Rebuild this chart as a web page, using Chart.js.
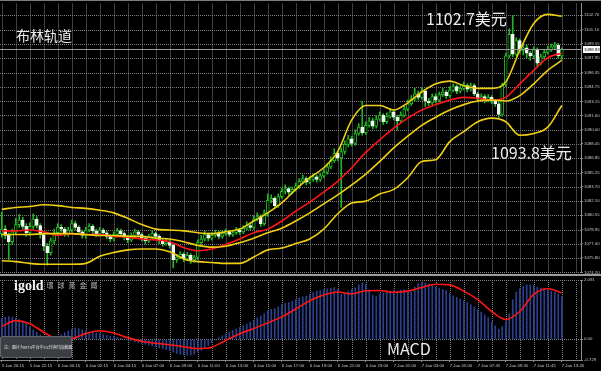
<!DOCTYPE html>
<html>
<head>
<meta charset="utf-8">
<script src="https://cdn.jsdelivr.net/npm/chart.js@4.4.1/dist/chart.umd.min.js"></script>
<style>
  body { margin: 0; background: #000; }
  #wrap { position: relative; width: 601px; height: 371px; background: #000; overflow: hidden; }
  #main { position: absolute; left: 0; top: 0; }
  #macd { position: absolute; left: 0; top: 276px; }
  .t { position: absolute; color: #ececec; font-family: "Noto Sans CJK SC", "Liberation Sans", sans-serif; white-space: nowrap; line-height: 1; }
  #logo { position: absolute; left: 14px; top: 276px; white-space: nowrap; }
  #logo b { font-family: "Liberation Serif", serif; font-size: 14px; color: #f4f4f4; }
  #logo span { font-family: "Noto Sans CJK TC", sans-serif; font-size: 7px; color: #b8b8b8; letter-spacing: 4px; margin-left: 3px; vertical-align: 2px; }
  #note { position: absolute; left: 0; top: 336px; width: 72px; height: 22px; box-sizing: border-box;
          background: #3b3e43; border: 1px solid #62666b; border-radius: 2px;
          font-family: "Noto Sans CJK SC", sans-serif; font-size: 4px; color: #e0e0e0;
          line-height: 20px; padding-left: 3px; white-space: nowrap; }
</style>
</head>
<body>
<div id="wrap">
  <canvas id="main" width="601" height="276"></canvas>
  <canvas id="macd" width="601" height="95"></canvas>
  <div class="t" style="left:16px;top:28px;font-size:14px">布林轨道</div>
  <div class="t" style="left:426px;top:10px;font-size:16px">1102.7美元</div>
  <div class="t" style="left:491px;top:144px;font-size:16px">1093.8美元</div>
  <div class="t" style="left:387px;top:340px;font-size:16px">MACD</div>
  <div id="logo"><b>igold</b><span>環球黃金屬</span></div>
  <div id="note">注：图片为MT4平台中15分钟时段截图</div>
</div>
<script>
// 15 minute bars, 5 Jan 20:15 -> 7 Jan 13:45
const open = [
  1078.5,1079.0,1078.3,1077.6,1078.7,1079.5,1080.0,1079.3,1078.6,1079.3,
  1080.1,1079.4,1078.4,1077.1,1076.4,1077.7,1078.6,1079.2,1079.0,1078.5,
  1078.9,1079.6,1079.2,1078.7,1078.3,1078.9,1079.3,1078.8,1078.5,1078.9,
  1078.6,1078.2,1077.9,1078.4,1078.8,1078.5,1078.1,1077.8,1078.3,1078.7,
  1078.4,1078.0,1077.7,1078.1,1078.5,1078.2,1077.7,1077.4,1077.6,1077.2,
  1075.6,1075.9,1076.2,1075.7,1076.1,1075.6,1075.9,1077.5,1077.9,1078.4,
  1078.0,1078.3,1078.6,1078.2,1078.5,1078.7,1078.4,1078.6,1078.9,1078.7,
  1079.1,1079.4,1079.2,1080.1,1080.4,1079.6,1080.8,1082.2,1082.4,1081.6,
  1082.6,1083.2,1083.5,1083.1,1083.4,1083.8,1084.3,1084.6,1084.2,1084.5,
  1084.8,1084.5,1084.9,1085.3,1085.9,1086.6,1087.4,1086.9,1087.6,1088.4,
  1089.0,1088.5,1089.6,1090.3,1089.7,1090.5,1091.0,1090.4,1091.2,1091.6,
  1090.9,1091.5,1092.0,1091.4,1091.0,1091.6,1092.3,1092.9,1093.4,1094.0,
  1093.6,1094.3,1093.2,1093.0,1093.7,1093.3,1093.9,1094.2,1093.8,1094.4,
  1094.8,1094.3,1094.6,1094.9,1094.5,1094.9,1094.0,1093.4,1093.7,1093.3,
  1093.6,1093.2,1092.9,1091.7,1095.0,1098.2,1100.6,1098.4,1099.9,1098.8,
  1099.1,1098.5,1098.2,1098.9,1097.4,1098.1,1098.6,1098.9,1099.2,1099.4,
  1098.2
];
const high = [
  1080.9,1079.4,1078.6,1079.0,1080.2,1080.6,1080.3,1079.6,1079.7,1080.7,
  1080.4,1079.6,1078.6,1077.4,1078.0,1079.0,1079.6,1079.5,1079.2,1079.2,
  1080.0,1079.9,1079.4,1078.9,1079.2,1079.6,1079.5,1079.0,1079.2,1079.1,
  1078.8,1078.4,1078.7,1079.1,1079.0,1078.7,1078.3,1078.6,1079.0,1078.9,
  1078.6,1078.2,1078.4,1078.8,1078.7,1078.4,1077.9,1077.9,1077.8,1077.4,
  1076.2,1076.5,1076.4,1076.4,1076.3,1076.1,1077.8,1078.3,1078.8,1078.6,
  1078.6,1078.9,1078.8,1078.8,1079.0,1078.9,1078.9,1079.2,1079.1,1079.4,
  1079.8,1079.7,1080.5,1080.8,1080.6,1081.1,1082.9,1082.8,1082.6,1082.9,
  1083.5,1083.9,1083.7,1083.7,1084.1,1084.6,1085.0,1084.8,1084.8,1085.1,
  1085.0,1085.2,1085.6,1086.3,1087.0,1087.9,1087.7,1088.0,1088.8,1089.4,
  1089.3,1090.0,1090.7,1093.2,1090.9,1091.4,1091.3,1091.6,1092.0,1091.8,
  1091.9,1092.4,1092.2,1091.6,1092.0,1092.6,1093.3,1093.8,1094.6,1094.3,
  1094.7,1094.5,1093.5,1094.0,1094.0,1094.2,1094.6,1094.4,1094.8,1095.1,
  1095.0,1094.9,1095.3,1095.1,1095.2,1095.1,1094.2,1094.0,1093.9,1093.9,
  1093.8,1093.4,1093.1,1095.2,1098.5,1101.2,1102.7,1100.2,1100.1,1099.5,
  1099.4,1098.7,1099.2,1099.1,1098.4,1098.9,1099.3,1099.5,1099.7,1099.6,
  1099.1
];
const low = [
  1078.1,1077.9,1075.6,1077.3,1078.4,1079.2,1079.0,1078.2,1078.3,1079.0,
  1079.1,1078.0,1076.6,1075.0,1076.1,1077.4,1078.3,1078.7,1078.2,1078.2,
  1078.7,1078.9,1078.4,1078.0,1078.0,1078.7,1078.5,1078.2,1078.3,1078.3,
  1077.9,1077.6,1077.7,1078.2,1078.2,1077.8,1077.5,1077.6,1078.1,1078.1,
  1077.7,1077.4,1077.5,1077.9,1077.9,1077.4,1077.1,1077.2,1076.9,1074.7,
  1075.3,1075.7,1075.4,1075.5,1075.2,1075.3,1075.6,1077.3,1077.7,1077.7,
  1077.8,1078.1,1077.9,1078.0,1078.3,1078.2,1078.2,1078.4,1078.4,1078.5,
  1078.9,1078.9,1079.0,1079.9,1079.3,1079.4,1080.4,1081.9,1081.3,1081.4,
  1082.4,1082.9,1082.8,1082.9,1083.2,1083.5,1084.1,1083.9,1084.0,1084.3,
  1084.2,1084.3,1084.7,1085.1,1085.7,1086.4,1086.6,1081.4,1087.3,1088.1,
  1088.2,1088.3,1089.4,1089.4,1089.5,1090.3,1090.1,1090.2,1091.0,1090.6,
  1090.7,1091.3,1091.1,1090.0,1090.8,1091.4,1092.1,1092.7,1093.2,1093.3,
  1093.4,1092.6,1092.7,1092.8,1093.0,1093.1,1093.7,1093.5,1093.6,1094.2,
  1094.0,1094.1,1094.4,1094.2,1094.3,1093.8,1093.1,1093.2,1093.0,1093.1,
  1092.9,1092.6,1091.3,1091.5,1094.8,1098.0,1098.1,1098.2,1098.5,1098.3,
  1098.0,1097.7,1097.9,1097.1,1097.2,1097.9,1098.4,1098.7,1099.0,1097.9,
  1097.8
];
const close = [
  1079.0,1078.3,1077.6,1078.7,1079.5,1080.0,1079.3,1078.6,1079.3,1080.1,
  1079.4,1078.4,1077.1,1076.4,1077.7,1078.6,1079.2,1079.0,1078.5,1078.9,
  1079.6,1079.2,1078.7,1078.3,1078.9,1079.3,1078.8,1078.5,1078.9,1078.6,
  1078.2,1077.9,1078.4,1078.8,1078.5,1078.1,1077.8,1078.3,1078.7,1078.4,
  1078.0,1077.7,1078.1,1078.5,1078.2,1077.7,1077.4,1077.6,1077.2,1075.6,
  1075.9,1076.2,1075.7,1076.1,1075.6,1075.9,1077.5,1077.9,1078.4,1078.0,
  1078.3,1078.6,1078.2,1078.5,1078.7,1078.4,1078.6,1078.9,1078.7,1079.1,
  1079.4,1079.2,1080.1,1080.4,1079.6,1080.8,1082.2,1082.4,1081.6,1082.6,
  1083.2,1083.5,1083.1,1083.4,1083.8,1084.3,1084.6,1084.2,1084.5,1084.8,
  1084.5,1084.9,1085.3,1085.9,1086.6,1087.4,1086.9,1087.6,1088.4,1089.0,
  1088.5,1089.6,1090.3,1089.7,1090.5,1091.0,1090.4,1091.2,1091.6,1090.9,
  1091.5,1092.0,1091.4,1091.0,1091.6,1092.3,1092.9,1093.4,1094.0,1093.6,
  1094.3,1093.2,1093.0,1093.7,1093.3,1093.9,1094.2,1093.8,1094.4,1094.8,
  1094.3,1094.6,1094.9,1094.5,1094.9,1094.0,1093.4,1093.7,1093.3,1093.6,
  1093.2,1092.9,1091.7,1095.0,1098.2,1100.6,1098.4,1099.9,1098.8,1099.1,
  1098.5,1098.2,1098.9,1097.4,1098.1,1098.6,1098.9,1099.2,1099.4,1098.2,
  1098.93
];
const lastPrice = 1098.93;

// indicator lines, read every 4th bar
const lineIdx = [0,4,8,12,16,20,24,28,32,36,40,44,48,52,56,60,64,68,72,76,80,
                 84,88,92,96,100,104,108,112,116,120,124,128,132,136,140,144,148,152,156,160];
const bbUpper = [1081.2,1081.4,1081.5,1081.7,1081.6,1081.4,1081.3,1081.1,1080.8,1080.2,1079.5,
                 1079.0,1078.9,1078.8,1078.6,1078.5,1078.7,1079.0,1079.9,1080.8,1081.9,
                 1083.4,1084.7,1085.8,1087.6,1091.1,1092.7,1092.7,1092.2,1093.0,1094.2,
                 1095.1,1095.4,1094.9,1094.6,1094.6,1095.3,1098.8,1101.8,1102.8,1102.6];
const bbMid   = [1078.4,1078.4,1078.4,1078.5,1078.5,1078.5,1078.4,1078.3,1078.3,1078.2,1078.2,
                 1078.0,1077.9,1077.6,1077.2,1077.0,1077.1,1077.5,1078.0,1078.6,1079.1,
                 1079.9,1080.8,1081.8,1082.8,1083.9,1085.1,1086.5,1088.0,1089.3,1090.5,
                 1091.4,1092.2,1092.8,1093.2,1093.3,1093.2,1093.8,1095.1,1096.6,1097.7];
const bbLower = [1075.5,1075.4,1075.2,1075.1,1075.1,1075.1,1075.2,1076.0,1076.4,1076.7,1076.8,
                 1076.8,1076.5,1075.7,1075.4,1075.3,1075.2,1075.2,1075.9,1076.7,1076.9,
                 1077.4,1077.9,1079.0,1080.7,1081.9,1082.1,1082.9,1083.4,1084.7,1086.5,
                 1086.7,1088.7,1089.8,1090.9,1091.3,1090.9,1089.4,1089.6,1090.3,1092.7];
const maLine  = [1078.8,1078.8,1078.9,1078.7,1078.3,1078.5,1078.4,1078.4,1078.2,1078.1,1077.9,
                 1077.8,1077.6,1076.95,1076.6,1076.8,1077.3,1077.9,1078.6,1079.0,1079.9,
                 1081.0,1082.0,1083.1,1084.3,1085.8,1087.5,1088.9,1090.2,1091.3,1092.2,
                 1092.8,1093.3,1093.6,1093.5,1093.3,1093.6,1095.1,1096.6,1098.0,1098.5];

// MACD pane
const macdHist = [
  0.74,0.78,0.80,0.78,0.74,0.70,0.64,0.55,0.45,0.34,
  0.25,0.15,0.06,-0.04,-0.08,-0.02,0.08,0.16,0.24,0.30,
  0.36,0.40,0.38,0.34,0.30,0.26,0.24,0.22,0.20,0.17,
  0.14,0.12,0.10,0.07,0.04,0.01,-0.02,-0.05,-0.08,-0.11,
  -0.14,-0.17,-0.20,-0.23,-0.26,-0.30,-0.33,-0.36,-0.40,-0.45,
  -0.50,-0.53,-0.55,-0.56,-0.55,-0.52,-0.45,-0.38,-0.30,-0.22,
  -0.12,-0.02,0.06,0.13,0.19,0.25,0.31,0.36,0.42,0.48,
  0.54,0.60,0.68,0.76,0.82,0.90,1.00,1.06,1.08,1.14,
  1.22,1.28,1.30,1.34,1.40,1.46,1.50,1.52,1.58,1.65,
  1.70,1.72,1.75,1.78,1.80,1.82,1.76,1.58,1.62,1.70,
  1.76,1.82,1.92,1.99,1.94,1.75,1.55,1.52,1.60,1.64,
  1.67,1.70,1.72,1.70,1.74,1.76,1.70,1.66,1.84,1.96,
  1.99,1.98,1.95,1.90,1.85,1.80,1.76,1.72,1.62,1.54,
  1.48,1.42,1.36,1.30,1.22,1.14,1.05,0.96,0.86,0.76,
  0.62,0.48,0.36,0.45,0.62,0.90,1.40,1.66,1.78,1.86,
  1.92,1.92,1.90,1.84,1.80,1.78,1.74,1.70,1.66,1.60,
  1.50
];
const macdSignal = [0.45,0.66,0.55,0.25,0.02,0.03,0.20,0.30,0.22,0.06,-0.07,
                    -0.14,-0.19,-0.26,-0.33,-0.28,-0.04,0.20,0.38,0.58,0.79,
                    1.07,1.36,1.56,1.67,1.60,1.71,1.72,1.66,1.70,1.83,
                    1.94,1.92,1.70,1.40,0.98,0.70,0.98,1.58,1.78,1.64];

const timeLabels = ['5 Jan 20:15','5 Jan 22:15','6 Jan 00:15','6 Jan 02:15','6 Jan 04:15','6 Jan 07:00',
  '6 Jan 09:00','6 Jan 11:00','6 Jan 13:00','6 Jan 15:00','6 Jan 17:00','6 Jan 19:00','6 Jan 21:00',
  '6 Jan 23:00','7 Jan 01:00','7 Jan 03:00','7 Jan 05:00','7 Jan 07:45','7 Jan 09:45','7 Jan 11:45','7 Jan 13:45'];
const priceTicks = [1102.70,1101.10,1099.55,1097.95,1096.35,1094.75,1093.15,1091.60,1090.00,1088.45,
  1086.85,1085.25,1083.70,1082.10,1080.55,1078.95,1077.40,1075.80,1074.20];
const macdTicks = [2.091, 0, -0.729];
const macdTickText = ['2.091', '0.00', '-0.729'];

// chart shift: a few empty slots after the last bar
const slots = [];
for (let i = 0; i < close.length + 5; i++) slots.push(i);

const green = '#22b422';
const yellow = '#f0cf12';
const red = '#ff1616';
const gridCol = '#7e7e7e';
const axisCol = '#8e8e8e';
const tickCol = '#c8c8c8';
const clear = 'rgba(0,0,0,0)';
const tickFont = { family: '"Liberation Sans", Arial, sans-serif', size: 4.3 };

const pts = (arr) => arr.map((v, k) => ({ x: lineIdx[k], y: v }));
const wicks = low.map((l, i) => [l, high[i]]);
const bodies = open.map((o, i) => [o, close[i]]);
const bodyFill = close.map((c, i) => (c < open[i] ? '#f4f4f4' : '#000000'));
const bodyEdge = close.map((c, i) => (c < open[i] ? '#f4f4f4' : green));

const lineSet = (arr, color, order) => ({
  type: 'line', xAxisID: 'xl', data: pts(arr), borderColor: color, borderWidth: 1.6,
  pointRadius: 0, cubicInterpolationMode: 'monotone', fill: false, order: order
});

// dotted MT4 style grid, placed with the chart's own scales
const dotGrid = (hTicks) => ({
  id: 'dotGrid',
  beforeDatasetsDraw(chart) {
    const { ctx, chartArea: a, scales } = chart;
    ctx.save();
    ctx.strokeStyle = gridCol;
    ctx.lineWidth = 1;
    ctx.setLineDash([1, 1]);
    ctx.beginPath();
    hTicks.forEach((v) => {
      const y = Math.round(scales.y.getPixelForValue(v)) + 0.5;
      ctx.moveTo(a.left, y); ctx.lineTo(a.right, y);
    });
    slots.forEach((i) => {
      if (i % 4 !== 0) return;
      const x = Math.round(scales.x.getPixelForValue(i)) + 0.5;
      ctx.moveTo(x, a.top); ctx.lineTo(x, a.bottom);
    });
    ctx.stroke();
    ctx.restore();
  }
});

const mainFrame = {
  id: 'mainFrame',
  afterDraw(chart) {
    const { ctx, chartArea: a, scales } = chart;
    ctx.save();
    const y = Math.round(scales.y.getPixelForValue(lastPrice)) + 0.5;
    ctx.strokeStyle = '#9a9a9a';
    ctx.lineWidth = 1;
    ctx.beginPath(); ctx.moveTo(a.left, y); ctx.lineTo(a.right, y); ctx.stroke();
    ctx.fillStyle = '#ffffff';
    ctx.fillRect(a.right + 2, y - 3.5, 17, 7);
    ctx.fillStyle = '#000000';
    ctx.font = '4.3px "Liberation Sans"';
    ctx.textBaseline = 'middle';
    ctx.fillText(lastPrice.toFixed(2), a.right + 3, y);
    // top border and pane separator
    ctx.strokeStyle = '#7c7c7c';
    ctx.beginPath(); ctx.moveTo(0, 0.5); ctx.lineTo(chart.width, 0.5); ctx.stroke();
    ctx.lineWidth = 2;
    ctx.strokeStyle = '#9c9c9c';
    ctx.beginPath(); ctx.moveTo(0, 275); ctx.lineTo(chart.width, 275); ctx.stroke();
    ctx.restore();
  }
};

new Chart(document.getElementById('main'), {
  data: {
    labels: slots,
    datasets: [
      lineSet(bbUpper, yellow, 0),
      lineSet(bbMid, yellow, 0),
      lineSet(bbLower, yellow, 0),
      lineSet(maLine, red, 0),
      { type: 'bar', data: bodies, backgroundColor: bodyFill, borderColor: bodyEdge, borderWidth: 1,
        borderSkipped: false, barThickness: 3, minBarLength: 1, grouped: false, order: 1 },
      { type: 'bar', data: wicks, backgroundColor: green, barThickness: 1, grouped: false, order: 2 }
    ]
  },
  options: {
    responsive: false, animation: false, events: [],
    layout: { padding: { top: 2, bottom: 2, left: 0, right: 0 } },
    plugins: { legend: { display: false }, tooltip: { enabled: false } },
    scales: {
      x: {
        type: 'category', offset: true,
        grid: { display: false },
        border: { display: false },
        ticks: { display: false },
        afterFit: (s) => { s.height = 0; }
      },
      xl: { type: 'linear', display: false, min: -0.5, max: slots.length - 0.5 },
      y: {
        position: 'right', min: 1074.20, max: 1104.0,
        afterBuildTicks: (s) => { s.ticks = priceTicks.map((v) => ({ value: v })); },
        afterFit: (s) => { s.width = 20; },
        ticks: { color: tickCol, font: tickFont, padding: 1, callback: (v) => Number(v).toFixed(2) },
        grid: { color: clear, tickLength: 2, tickColor: axisCol },
        border: { color: axisCol }
      }
    }
  },
  plugins: [dotGrid(priceTicks), mainFrame]
});

new Chart(document.getElementById('macd'), {
  data: {
    labels: slots,
    datasets: [
      { type: 'line', xAxisID: 'xl', data: pts(macdSignal), borderColor: red, borderWidth: 1.6,
        pointRadius: 0, cubicInterpolationMode: 'monotone', fill: false, order: 0 },
      { type: 'bar', data: macdHist, backgroundColor: '#2c4090', barThickness: 1, grouped: false, order: 1 }
    ]
  },
  options: {
    responsive: false, animation: false, events: [],
    layout: { padding: { top: 4, bottom: 0, left: 0, right: 0 } },
    plugins: { legend: { display: false }, tooltip: { enabled: false } },
    scales: {
      x: {
        type: 'category', offset: true,
        grid: { offset: false, color: clear, tickLength: 2,
                tickColor: (c) => (c.index % 8 === 0 ? axisCol : clear) },
        border: { color: axisCol },
        ticks: {
          autoSkip: false, maxRotation: 0, minRotation: 0, align: 'start', padding: 1,
          color: tickCol, font: tickFont,
          callback: (v, i) => (i % 8 === 0 && timeLabels[i / 8] ? timeLabels[i / 8] : '')
        },
        afterFit: (s) => { s.height = 11; }
      },
      xl: { type: 'linear', display: false, min: -0.5, max: slots.length - 0.5 },
      y: {
        position: 'right', min: -0.729, max: 2.091,
        afterBuildTicks: (s) => { s.ticks = macdTicks.map((v) => ({ value: v })); },
        afterFit: (s) => { s.width = 20; },
        ticks: { color: tickCol, font: tickFont, padding: 1,
                 callback: (v) => macdTickText[macdTicks.indexOf(v)] },
        grid: { color: clear, tickLength: 2, tickColor: axisCol },
        border: { color: axisCol }
      }
    }
  },
  plugins: [dotGrid(macdTicks)]
});
</script>
</body>
</html>
